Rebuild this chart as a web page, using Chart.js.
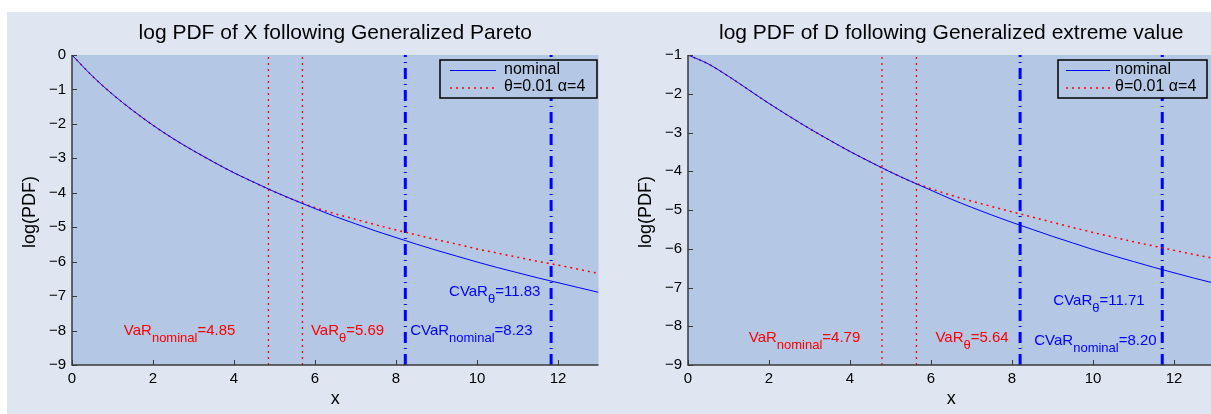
<!DOCTYPE html>
<html><head><meta charset="utf-8">
<script src="https://cdn.jsdelivr.net/npm/chart.js@4.4.0/dist/chart.umd.min.js"></script>
<style>
html,body{margin:0;padding:0;background:#fff;overflow:hidden;width:1211px;height:414px;position:relative;}
#fig{position:absolute;left:7px;top:12px;width:1204px;height:402px;background:#dfe6f2;}
#c1{position:absolute;left:0;top:0;width:605px;height:414px;}
#c2{position:absolute;left:610px;top:0;width:620px;height:414px;}
</style></head><body>
<div id="fig"></div>
<canvas id="c1" width="605" height="414"></canvas>
<canvas id="c2" width="620" height="414"></canvas>
<script>
// ---------------- data ----------------
const xGrid = [0,0.5,1,1.5,2,2.5,3,3.5,4,4.5,5,5.5,6,6.5,7,7.5,8,8.5,9,9.5,10,10.5,11,11.5,12,12.5,13];

// left: log PDF of X, Generalized Pareto
const gpdNominal = [0,-0.61,-1.14,-1.61,-2.04,-2.43,-2.78,-3.11,-3.42,-3.70,-3.97,-4.22,-4.46,-4.69,-4.90,-5.11,-5.30,-5.49,-5.67,-5.84,-6.01,-6.17,-6.32,-6.47,-6.61,-6.75,-6.89];
const gpdTheta   = [0,-0.61,-1.14,-1.61,-2.04,-2.43,-2.78,-3.11,-3.42,-3.70,-3.97,-4.22,-4.43,-4.61,-4.77,-4.93,-5.08,-5.22,-5.36,-5.49,-5.63,-5.75,-5.87,-5.99,-6.10,-6.22,-6.34];
const gpdRisk    = [4.85, 5.69, 8.23, 11.83];   // VaR nominal, VaR theta, CVaR nominal, CVaR theta

// right: log PDF of D, Generalized extreme value
const gevNominal = [-1,-1.23,-1.55,-1.90,-2.25,-2.58,-2.90,-3.20,-3.49,-3.76,-4.02,-4.26,-4.49,-4.72,-4.93,-5.13,-5.32,-5.50,-5.68,-5.85,-6.02,-6.18,-6.33,-6.48,-6.62,-6.76,-6.89];
const gevTheta   = [-1,-1.23,-1.55,-1.90,-2.25,-2.58,-2.90,-3.20,-3.49,-3.76,-4.02,-4.26,-4.45,-4.62,-4.77,-4.91,-5.05,-5.18,-5.32,-5.45,-5.58,-5.70,-5.82,-5.93,-6.04,-6.15,-6.25];
const gevRisk    = [4.79, 5.64, 8.20, 11.71];

const xTicks    = [0,2,4,6,8,10,12];
const gpdYTicks = [0,-1,-2,-3,-4,-5,-6,-7,-8,-9];
const gevYTicks = [-1,-2,-3,-4,-5,-6,-7,-8,-9];
const seriesNames = ['nominal','\u03b8=0.01 \u03b1=4'];

// ---------------- styles ----------------
const FONT = "'Liberation Sans', Arial, Helvetica, sans-serif";
const PLOT_BG = '#b4c8e6';
const AXIS = '#3a3a3a';
const BLUE = '#0000ff', RED = '#ff0000';

function pts(xs, ys){ return xs.map((x,i)=>({x:x, y:ys[i]})); }
function vline(v, ymin, ymax){ return [{x:v,y:ymin},{x:v,y:ymax}]; }
function minus(v){ return String(v).replace('-', '\u2212'); }

function drawRich(ctx, x, y, parts, color){
  ctx.fillStyle = color; ctx.textAlign = 'left'; ctx.textBaseline = 'alphabetic';
  let cx = x;
  for (const [t, kind] of parts){
    ctx.font = (kind === 's' ? '13px ' : '15px ') + FONT;
    ctx.fillText(t, cx, kind === 's' ? y + 7 : y);
    cx += ctx.measureText(t).width;
  }
}

function makeChart(canvasId, cfg){
  const deco = {
    id: 'deco',
    beforeDraw(chart){
      const {ctx, chartArea:a} = chart;
      ctx.save(); ctx.fillStyle = PLOT_BG;
      ctx.fillRect(a.left, a.top, a.right - a.left, a.bottom - a.top);
      ctx.restore();
    },
    afterDraw(chart){
      const {ctx, chartArea:a, scales} = chart;
      const sx = scales.x, sy = scales.y;
      ctx.save();
      // axes
      ctx.strokeStyle = AXIS; ctx.lineWidth = 1.5; ctx.setLineDash([]);
      ctx.beginPath();
      ctx.moveTo(a.left, a.top); ctx.lineTo(a.left, a.bottom); ctx.lineTo(a.right, a.bottom);
      ctx.stroke();
      ctx.lineWidth = 1;
      ctx.beginPath();
      for (const v of cfg.yTicks){ const py = Math.round(sy.getPixelForValue(v)) + 0.5; ctx.moveTo(a.left, py); ctx.lineTo(a.left + 5, py); }
      for (const v of xTicks){ const px = Math.round(sx.getPixelForValue(v)) + 0.5; ctx.moveTo(px, a.bottom); ctx.lineTo(px, a.bottom - 5); }
      ctx.stroke();
      // title & axis titles
      ctx.fillStyle = '#000'; ctx.textAlign = 'center'; ctx.textBaseline = 'middle';
      ctx.font = '21px ' + FONT;
      ctx.fillText(cfg.title, (a.left + a.right) / 2, 33);
      ctx.font = '18px ' + FONT;
      ctx.fillText('x', (a.left + a.right) / 2, 399);
      ctx.save(); ctx.translate(cfg.yLabelX, 212); ctx.rotate(-Math.PI / 2);
      ctx.fillText('log(PDF)', 0, 0); ctx.restore();
      // annotations
      const r = cfg.risk;
      const L = cfg.labels;
      const lab = [
        [[['VaR','m'],['nominal','s'],['=' + r[0].toFixed(2),'m']], RED],
        [[['VaR','m'],['\u03b8','s'],['=' + r[1].toFixed(2),'m']], RED],
        [[['CVaR','m'],['nominal','s'],['=' + r[2].toFixed(2),'m']], BLUE],
        [[['CVaR','m'],['\u03b8','s'],['=' + r[3].toFixed(2),'m']], BLUE]
      ];
      lab.forEach((l, i) => drawRich(ctx, sx.getPixelForValue(L[i][0]), sy.getPixelForValue(L[i][1]), l[0], l[1]));
      // legend
      const b = cfg.legend;
      ctx.fillStyle = PLOT_BG; ctx.fillRect(b.x, b.y, b.w, b.h);
      ctx.strokeStyle = '#000'; ctx.lineWidth = 1.5; ctx.strokeRect(b.x, b.y, b.w, b.h);
      ctx.lineWidth = 1; ctx.strokeStyle = BLUE; ctx.setLineDash([]);
      ctx.beginPath(); ctx.moveTo(b.x + b.s0, b.y + 10.5); ctx.lineTo(b.x + b.s1, b.y + 10.5); ctx.stroke();
      ctx.lineWidth = 1.5; ctx.strokeStyle = RED; ctx.setLineDash([2,4]);
      ctx.beginPath(); ctx.moveTo(b.x + b.s0, b.y + 28); ctx.lineTo(b.x + b.s1, b.y + 28); ctx.stroke();
      ctx.setLineDash([]);
      ctx.fillStyle = '#000'; ctx.textAlign = 'left'; ctx.textBaseline = 'middle'; ctx.font = '16px ' + FONT;
      ctx.fillText(seriesNames[0], b.x + b.t, b.y + 10);
      ctx.fillText(seriesNames[1], b.x + b.t, b.y + 27);
      ctx.restore();
    }
  };
  const ymin = cfg.ymin, ymax = cfg.ymax;
  const dotted = {borderColor: RED, borderWidth: 1.3, borderDash: [2,4], pointRadius: 0, fill: false};
  const dashdot = {borderColor: BLUE, borderWidth: 3, borderDash: [11,5,1,5], pointRadius: 0, fill: false};
  return new Chart(document.getElementById(canvasId), {
    type: 'line',
    data: { datasets: [
      {label: seriesNames[0], data: pts(xGrid, cfg.nominal), borderColor: BLUE, borderWidth: 1, pointRadius: 0, cubicInterpolationMode: 'monotone', fill: false},
      Object.assign({label: seriesNames[1], data: pts(xGrid, cfg.theta), cubicInterpolationMode: 'monotone'}, dotted, {borderWidth: 1.5}),
      Object.assign({label: 'VaR nominal', data: vline(cfg.risk[0], ymin, ymax)}, dotted),
      Object.assign({label: 'VaR theta', data: vline(cfg.risk[1], ymin, ymax)}, dotted),
      Object.assign({label: 'CVaR nominal', data: vline(cfg.risk[2], ymin, ymax)}, dashdot),
      Object.assign({label: 'CVaR theta', data: vline(cfg.risk[3], ymin, ymax)}, dashdot)
    ]},
    options: {
      responsive: false, animation: false, devicePixelRatio: 1,
      layout: {padding: {top: 55, left: 0, right: cfg.padRight, bottom: 0}},
      plugins: {legend: {display: false}, title: {display: false}, tooltip: {enabled: false}},
      scales: {
        x: {type: 'linear', min: 0, max: 13,
            afterBuildTicks: s => { s.ticks = xTicks.map(v => ({value: v})); },
            afterFit: s => { s.height = 49; },
            grid: {display: false, drawTicks: false}, border: {display: false},
            ticks: {padding: 5, color: '#000', font: {family: FONT, size: 15}, maxRotation: 0, autoSkip: false, callback: v => minus(v)}},
        y: {type: 'linear', min: ymin, max: ymax,
            afterBuildTicks: s => { s.ticks = cfg.yTicks.map(v => ({value: v})); },
            afterFit: s => { s.width = cfg.yWidth; },
            grid: {display: false, drawTicks: false}, border: {display: false},
            ticks: {padding: 6, color: '#000', font: {family: FONT, size: 15}, autoSkip: false, callback: v => minus(v)}}
      }
    },
    plugins: [deco]
  });
}

makeChart('c1', {
  title: 'log PDF of X following Generalized Pareto',
  nominal: gpdNominal, theta: gpdTheta, risk: gpdRisk,
  ymin: -9, ymax: 0, yTicks: gpdYTicks, yWidth: 72, padRight: 6.5, yLabelX: 30,
  labels: [[1.28,-8.14],[5.90,-8.14],[8.35,-8.14],[9.31,-7.0]],
  legend: {x: 440, y: 60, w: 157, h: 38, s0: 10, s1: 56, t: 64}
});
makeChart('c2', {
  title: 'log PDF of D following Generalized extreme value',
  nominal: gevNominal, theta: gevTheta, risk: gevRisk,
  ymin: -9, ymax: -1, yTicks: gevYTicks, yWidth: 78, padRight: 15.5, yLabelX: 36,
  labels: [[1.50,-8.41],[6.11,-8.41],[8.55,-8.48],[9.02,-7.45]],
  legend: {x: 448, y: 60, w: 149, h: 38, s0: 8, s1: 52, t: 57}
});
</script>
</body></html>
